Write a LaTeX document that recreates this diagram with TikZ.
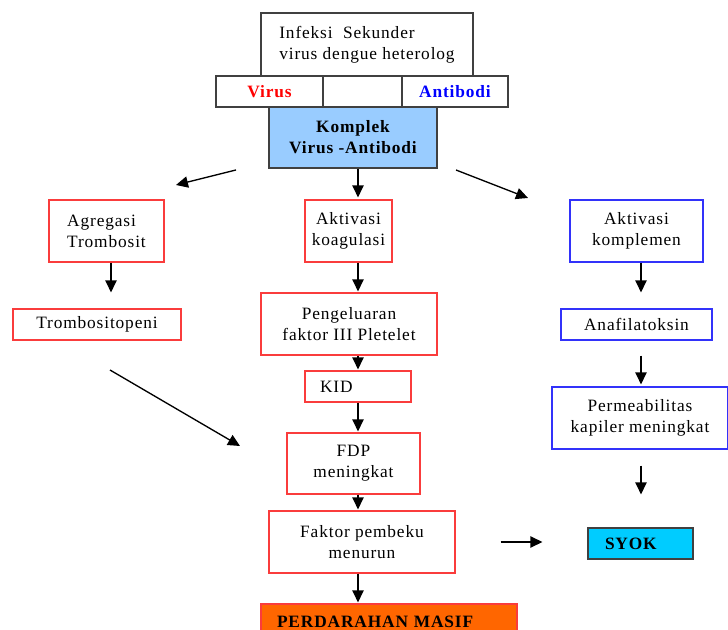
\documentclass[tikz,border=0pt]{standalone}
\usepackage{fontspec}
\setmainfont{Liberation Serif}[LetterSpace=5]
\usetikzlibrary{arrows.meta}
\definecolor{boxred}{RGB}{250,60,60}
\definecolor{boxblue}{RGB}{50,50,250}
\definecolor{komplekfill}{RGB}{153,204,255}
\definecolor{syokfill}{RGB}{0,204,255}
\definecolor{masiffill}{RGB}{255,102,0}
\begin{document}
\begin{tikzpicture}[x=0.75pt, y=-0.75pt,
    box/.style={draw, line width=0.9pt, fill=white, inner sep=0pt, align=center,
        font=\fontsize{13}{15.75}\selectfont},
    redbox/.style={box, draw=boxred},
    bluebox/.style={box, draw=boxblue},
    greybox/.style={box, draw=black!75},
    arr/.style={-{Triangle[length=9pt,width=8.5pt]}, line width=1pt}]

    \clip (0,0) rectangle (728,630);

    % top of the chart
    \node[greybox, minimum width=159pt, minimum height=48pt, align=left]
        (infeksi) at (367,45) {Infeksi\ \ Sekunder\\virus dengue heterolog};
    \node[greybox, minimum width=80.25pt, minimum height=23.25pt, text=red]
        (virus) at (269.5,91.5) {\bfseries Virus};
    \node[greybox, minimum width=59.25pt, minimum height=23.25pt]
        (mid) at (362.5,91.5) {};
    \node[greybox, minimum width=79.5pt, minimum height=23.25pt, text=blue]
        (antibodi) at (455,91.5) {\bfseries Antibodi};
    \node[greybox, fill=komplekfill, minimum width=126pt, minimum height=45.75pt]
        (komplek) at (353,137.5) {\bfseries Komplek\\\bfseries Virus -Antibodi};

    % left column
    \node[redbox, minimum width=86.25pt, minimum height=46.5pt, align=left]
        (agregasi) at (106.5,231) {Agregasi\\Trombosit};
    \node[redbox, minimum width=126pt, minimum height=23.25pt]
        (trombo) at (97,324.5) {Trombositopeni};

    % middle column
    \node[redbox, minimum width=65.25pt, minimum height=46.5pt]
        (koag) at (348.5,231) {Aktivasi\\koagulasi};
    \node[redbox, minimum width=132pt, minimum height=46.5pt]
        (peng) at (349,324) {Pengeluaran\\faktor III Pletelet};
    \node[redbox, minimum height=23.25pt, inner xsep=11.25pt, text width=57pt, align=left]
        (kid) at (358,386.5) {KID};
    \node[redbox, minimum width=99.75pt, minimum height=45.75pt]
        (fdp) at (353.5,463.5) {FDP\\meningkat};
    \node[redbox, minimum width=139.5pt, minimum height=46.5pt]
        (faktor) at (362,542) {Faktor pembeku\\menurun};
    \node[box, draw=boxred, fill=masiffill, minimum height=27pt, inner xsep=12pt,
        text width=168pt, align=left]
        (masif) at (389,622) {\bfseries PERDARAHAN MASIF};

    % right column
    \node[bluebox, minimum width=99.75pt, minimum height=46.5pt]
        (komplemen) at (636.5,231) {Aktivasi\\komplemen};
    \node[bluebox, minimum width=113.25pt, minimum height=23.25pt]
        (anafil) at (636.5,324.5) {Anafilatoksin};
    \node[bluebox, minimum width=132pt, minimum height=46.5pt]
        (perm) at (640,418) {Permeabilitas\\kapiler meningkat};
    \node[greybox, fill=syokfill, minimum height=23.25pt, inner xsep=12.75pt,
        text width=53.25pt, align=left]
        (syok) at (640.5,543.5) {\bfseries SYOK};

    % arrows
    \coordinate (spine) at (358,0);
    \coordinate (rspine) at (641,0);
    \coordinate (kl) at (236,170);
    \coordinate (agr) at (176,185);
    \coordinate (kr) at (456,170);
    \coordinate (kom) at (528,198);
    \coordinate (tr) at (110,370);
    \coordinate (trend) at (240,446);

    \draw[arr] (kl) -- (agr);
    \draw[arr] (kr) -- (kom);
    \draw[arr] (tr) -- (trend);
    \draw[arr, shorten >=1.5pt] (komplek.south -| spine) -- (koag.north -| spine);
    \draw[arr, shorten >=12pt] (agregasi.south -| 111,0) -- (trombo.north -| 111,0);

    \foreach \from/\to in {koag/peng, peng/kid, kid/fdp, fdp/faktor, faktor/masif}
        \draw[arr, shorten >=0.75pt] (\from.south -| spine) -- (\to.north -| spine);

    \draw[arr, shorten >=12pt] (komplemen.south -| rspine) -- (anafil.north -| rspine);
    \draw[arr, shorten <=11.25pt, shorten >=1.5pt] (anafil.south -| rspine) -- (perm.north -| rspine);
    \draw[arr, shorten <=12pt, shorten >=24.75pt] (perm.south -| rspine) -- (syok.north -| rspine);
    \draw[arr, shorten <=33.75pt, shorten >=33.75pt] (faktor.east) -- (syok.west |- faktor.east);
\end{tikzpicture}
\end{document}
